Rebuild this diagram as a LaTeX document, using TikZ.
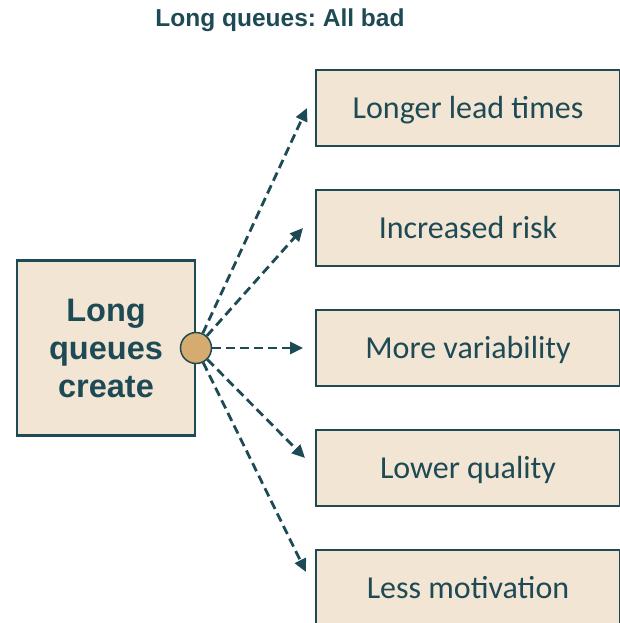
\documentclass[tikz,border=0pt]{standalone}
\usepackage{fontspec}
\setmainfont{Carlito}
\newfontfamily\headfont{Liberation Sans}
\usepackage{tikz}
\usetikzlibrary{positioning, arrows.meta}
\frenchspacing
\definecolor{qteal}{HTML}{1E4A56}
\definecolor{qsand}{HTML}{F2E5D3}
\definecolor{qdot}{HTML}{D5AB70}
\tikzset{
    node distance = 120pt,
    cause/.style = {draw=qteal, fill=qsand, line width=2.8pt, minimum width=178pt,
                    minimum height=175pt, align=center, text=qteal,
                    font=\headfont\bfseries\fontsize{32.5}{38}\selectfont},
    outcome/.style = {draw=qteal, fill=qsand, line width=2.8pt, minimum width=304pt,
                      minimum height=76pt, text=qteal, text height=21pt, text depth=0pt,
                      font=\fontsize{32}{38}\selectfont},
    hub/.style = {circle, draw=qteal, fill=qdot, line width=1.5pt, minimum size=31pt, inner sep=0pt},
    leads/.style = {draw=qteal, line width=2.8pt, dash pattern=on 9pt off 5pt,
                    -{Triangle[length=13pt, width=12pt]}}
}

\begin{document}
\begin{tikzpicture}[x=1pt, y=-1pt]
    \useasboundingbox (0,0) rectangle (619,623);
    \node[anchor=base, text=qteal, font=\headfont\bfseries\fontsize{24.5}{28}\selectfont] (title) at (280,27) {Long queues: All bad};
    \node[cause] (queues) at (106,348) {Long\\queues\\create};
    \node[outcome] (lead) at (468,108) {Longer lead times};
    \node[outcome, below of=lead] (risk) {Increased risk};
    \node[outcome, below of=risk] (var) {More variability};
    \node[outcome, below of=var] (qual) {Lower quality};
    \node[outcome, below of=qual] (motiv) {Less motivation};
    \node[hub] (dot) at (196,348) {};
    % arrow tips in front of the boxes
    \coordinate (tlead) at (307,108);
    \coordinate (trisk) at (303,228);
    \coordinate (tvar) at (303,348);
    \coordinate (tqual) at (305,458);
    \coordinate (tmotiv) at (306,572);
    \draw (dot) edge[leads] (tlead)
          (dot) edge[leads] (trisk)
          (dot) edge[leads] (tvar)
          (dot) edge[leads] (tqual)
          (dot) edge[leads] (tmotiv);
\end{tikzpicture}
\end{document}
